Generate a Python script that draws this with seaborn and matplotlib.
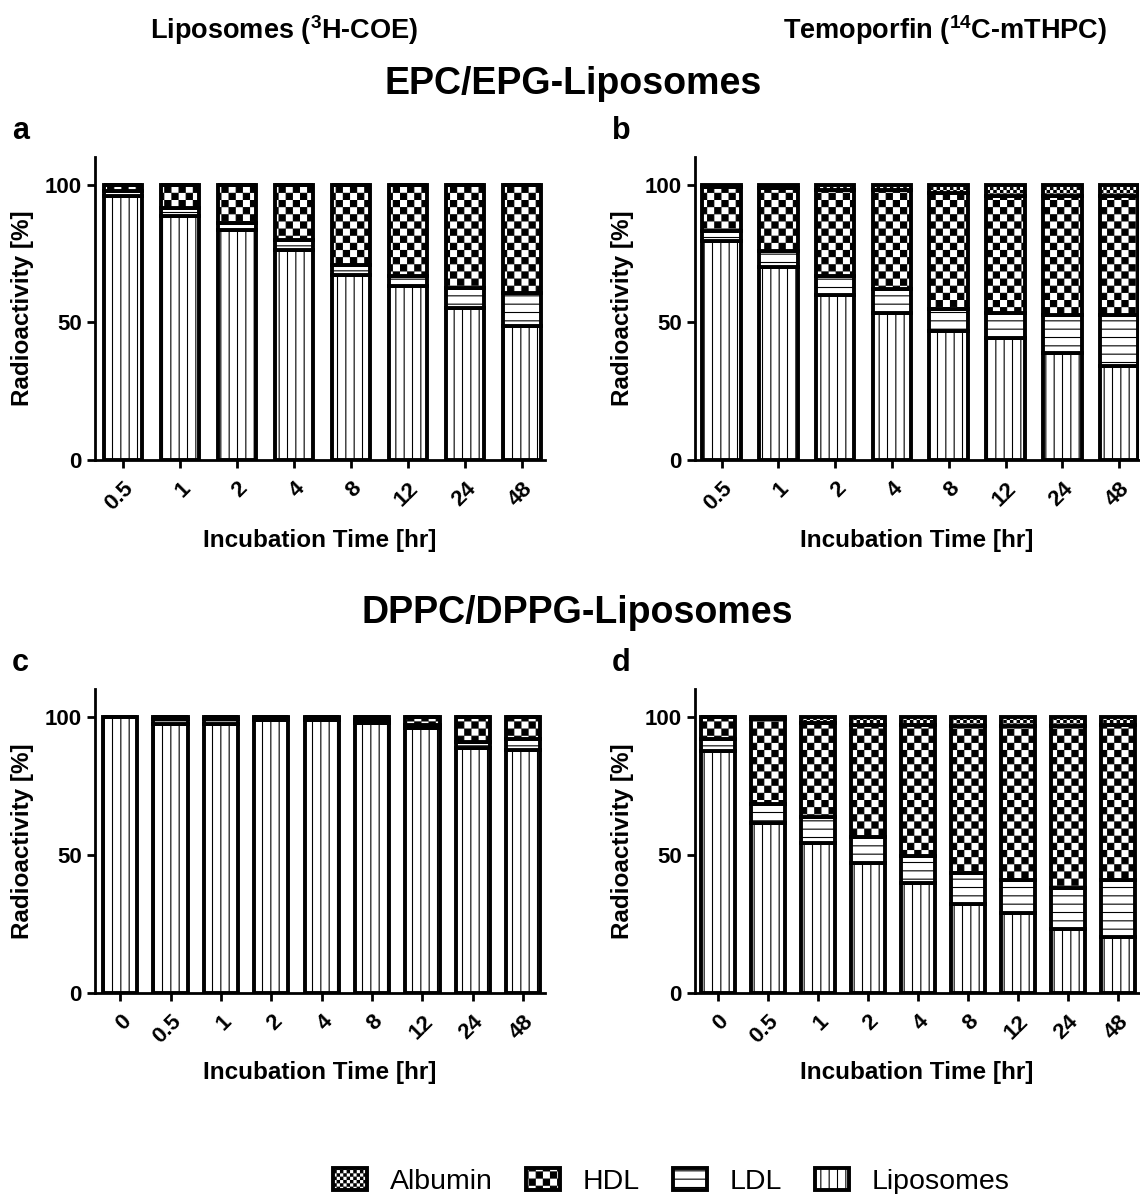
import matplotlib
matplotlib.use('Agg')
import matplotlib.pyplot as plt
import matplotlib.patches as mpatches
from matplotlib import hatch as mhatch
from matplotlib.path import Path
import seaborn as sns
import pandas as pd
import numpy as np

# Data (percent of radioactivity per fraction)
times_ab = ['0.5', '1', '2', '4', '8', '12', '24', '48']
times_cd = ['0', '0.5', '1', '2', '4', '8', '12', '24', '48']
layers = ['Liposomes', 'LDL', 'HDL', 'Albumin']

# a: EPC/EPG liposomes, 3H-COE
a_lipo = [96.0, 88.5, 83.4, 76.4, 67.3, 63.3, 55.2, 48.5]
a_ldl = [1.5, 3.0, 2.6, 3.4, 3.6, 3.4, 7.2, 12.1]
a_hdl = [2.5, 8.5, 14.0, 20.2, 29.1, 33.3, 37.6, 39.4]
a_alb = [0, 0, 0, 0, 0, 0, 0, 0]

# b: EPC/EPG liposomes, 14C-mTHPC
b_lipo = [79.4, 70.1, 60.0, 53.3, 46.7, 44.2, 39.0, 34.0]
b_ldl = [3.6, 5.7, 6.9, 8.7, 8.1, 9.1, 13.7, 18.7]
b_hdl = [16.0, 23.0, 31.3, 36.0, 42.2, 42.5, 43.1, 43.1]
b_alb = [1.0, 1.2, 1.8, 2.0, 3.0, 4.2, 4.2, 4.2]

# c: DPPC/DPPG liposomes, 3H-COE
c_lipo = [100.0, 97.3, 97.3, 98.6, 98.6, 97.8, 95.8, 88.5, 87.9]
c_ldl = [0, 1.7, 1.7, 0.7, 0.7, 1.1, 1.2, 2.3, 3.9]
c_hdl = [0, 1.0, 1.0, 0.7, 0.7, 1.1, 3.0, 9.2, 8.2]
c_alb = [0, 0, 0, 0, 0, 0, 0, 0, 0]

# d: DPPC/DPPG liposomes, 14C-mTHPC
d_lipo = [87.7, 61.6, 54.3, 46.9, 39.6, 32.1, 28.7, 23.0, 20.3]
d_ldl = [4.1, 6.8, 9.5, 9.6, 9.9, 11.1, 12.1, 14.8, 20.5]
d_hdl = [8.2, 30.6, 34.0, 40.5, 47.5, 53.2, 55.6, 58.8, 56.2]
d_alb = [0, 1.0, 2.2, 3.0, 3.0, 3.6, 3.6, 3.4, 3.0]


# checkerboard hatch ('o' coarse, 'O' fine), replaces the circle hatches
class CheckerHatch(mhatch.HatchPatternBase):
    def __init__(self, hatch, density):
        self.n = 14 * hatch.count('o') + 30 * hatch.count('O')
        self.cells = [(i, j) for i in range(self.n) for j in range(self.n)
                      if (i + j) % 2 == 0]
        self.num_vertices = len(self.cells) * 5

    def set_vertices_and_codes(self, vertices, codes):
        s = 1.0 / self.n
        d = 0.005
        k = 0
        for i, j in self.cells:
            x0, y0 = i * s + d, j * s + d
            x1, y1 = (i + 1) * s - d, (j + 1) * s - d
            vertices[k:k + 5] = [(x0, y0), (x1, y0), (x1, y1), (x0, y1), (x0, y0)]
            codes[k:k + 5] = [Path.MOVETO, Path.LINETO, Path.LINETO,
                              Path.LINETO, Path.CLOSEPOLY]
            k += 5


mhatch._hatch_types = [mhatch.HorizontalHatch, mhatch.VerticalHatch,
                       mhatch.NorthEastHatch, mhatch.SouthEastHatch, CheckerHatch]

hatches = {'Liposomes': '||', 'LDL': '--', 'HDL': 'o', 'Albumin': 'O'}

sns.set_style('ticks')
plt.rcParams['font.family'] = ['Liberation Sans', 'DejaVu Sans']
plt.rcParams['mathtext.fontset'] = 'custom'
plt.rcParams['mathtext.rm'] = 'Liberation Sans'
plt.rcParams['mathtext.bf'] = 'Liberation Sans:bold'
plt.rcParams['hatch.linewidth'] = 0.8
plt.rcParams['hatch.color'] = 'black'
for key in ['text.color', 'axes.labelcolor', 'xtick.color', 'ytick.color',
            'axes.edgecolor']:
    plt.rcParams[key] = 'black'

fig = plt.figure(figsize=(11.4, 11.94), dpi=100)

panels = [
    ('a', times_ab, [a_lipo, a_ldl, a_hdl, a_alb], [0.0833, 0.6147, 0.3947, 0.2538], (-0.49, 7.4)),
    ('b', times_ab, [b_lipo, b_ldl, b_hdl, b_alb], [0.6096, 0.6147, 0.3895, 0.2538], (-0.47, 7.35)),
    ('c', times_cd, [c_lipo, c_ldl, c_hdl, c_alb], [0.0833, 0.1686, 0.3947, 0.2544], (-0.5, 8.43)),
    ('d', times_cd, [d_lipo, d_ldl, d_hdl, d_alb], [0.6096, 0.1686, 0.3895, 0.2544], (-0.455, 8.42)),
]

for letter, times, vals, rect, xl in panels:
    ax = fig.add_axes(rect)
    df = pd.DataFrame({'time': times})
    for name, v in zip(layers, vals):
        df[name] = v
    bottom = np.zeros(len(times))
    for name in layers:
        sns.barplot(data=df, x='time', y=name, order=times, color='white',
                    edgecolor='black', linewidth=2.8, hatch=hatches[name],
                    bottom=bottom, width=0.68, errorbar=None, saturation=1,
                    ax=ax)
        bottom = bottom + df[name].to_numpy()
    ax.set_ylim(0, 110)
    ax.set_xlim(*xl)
    ax.set_yticks([0, 50, 100])
    sns.despine(ax=ax)
    for sp in ax.spines.values():
        sp.set_linewidth(2)
    ax.tick_params(axis='both', length=6, width=2, labelsize=16)
    ax.tick_params(axis='x', pad=7)
    plt.setp(ax.get_xticklabels(), rotation=45, ha='right',
             rotation_mode='anchor', fontweight='bold')
    plt.setp(ax.get_yticklabels(), fontweight='bold')
    ax.set_xlabel('Incubation Time [hr]', fontsize=17.5, fontweight='bold', labelpad=10)
    ax.set_ylabel('Radioactivity [%]', fontsize=17.5, fontweight='bold', labelpad=8)
    fig.text(rect[0] - 0.073, rect[1] + rect[3] + 0.022, letter,
             fontsize=22, fontweight='bold', ha='left', va='center')

fig.text(0.249, 0.975, r'Liposomes ($^{\mathbf{3}}$H-COE)', fontsize=19.5,
         fontweight='bold', ha='center', va='center')
fig.text(0.829, 0.975, r'Temoporfin ($^{\mathbf{14}}$C-mTHPC)', fontsize=19.5,
         fontweight='bold', ha='center', va='center')
fig.text(0.503, 0.93, 'EPC/EPG-Liposomes', fontsize=27, fontweight='bold',
         ha='center', va='center')
fig.text(0.506, 0.487, 'DPPC/DPPG-Liposomes', fontsize=27, fontweight='bold',
         ha='center', va='center')

handles = [mpatches.Patch(facecolor='white', edgecolor='black', linewidth=2.8,
                          hatch=hatches[name], label=name)
           for name in layers[::-1]]
fig.legend(handles=handles, loc='lower center', ncol=4, frameon=False,
           bbox_to_anchor=(0.589, -0.022), fontsize=20.5, handlelength=1.2,
           handleheight=0.8, handletextpad=0.8, columnspacing=1.15)

fig.savefig('out.png', dpi=100)
